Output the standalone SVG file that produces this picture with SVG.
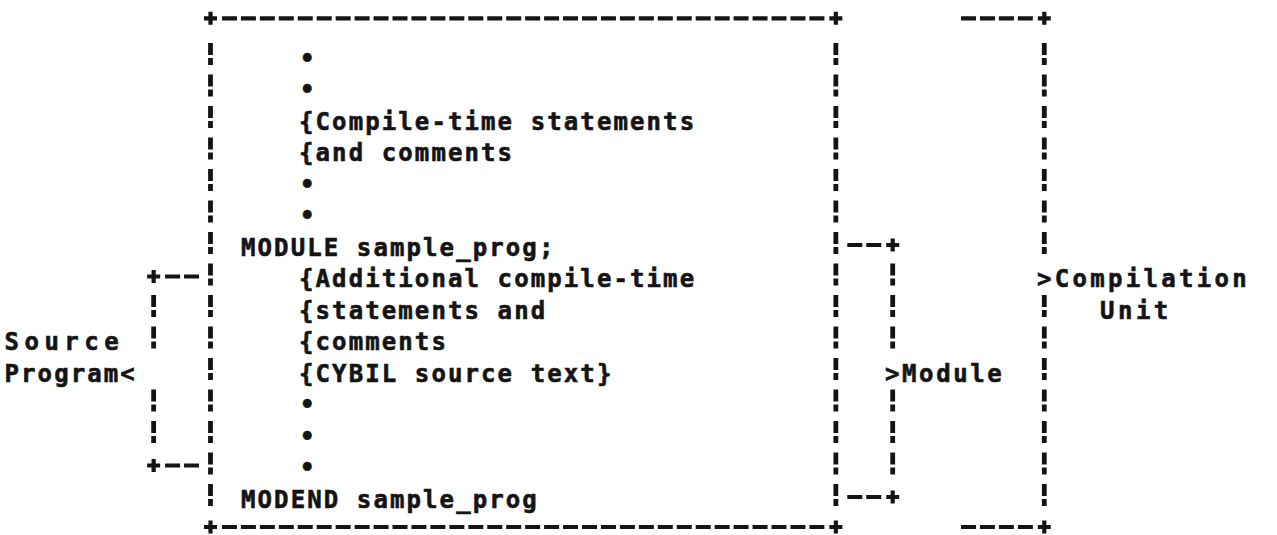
<svg xmlns="http://www.w3.org/2000/svg" width="1277" height="535" viewBox="0 0 1277 535">
  <defs>
    <style>
      .t{font-family:"DejaVu Sans Mono","Liberation Mono",monospace;font-weight:bold;font-size:24px;letter-spacing:2.1px;fill:#141414;stroke:#141414;stroke-width:0.6px}
      .v{stroke:#141414;stroke-width:4.8;stroke-dasharray:12 3 7 9.5;fill:none}
      .h{stroke:#141414;stroke-width:4.2;stroke-dasharray:15 3.95;fill:none}
      .p{stroke:#141414;stroke-width:4.2;fill:none}
    </style>
    <!-- corner / junction mark -->
    <path id="plus" class="p" d="M-6.5 0H6.5M0-6.5V6.5"/>
  </defs>
  <rect width="1277" height="535" fill="#fff"/>

  <!-- frames and brackets -->
  <g id="connectors">
    <!-- module listing frame -->
    <line class="h" x1="221.95" y1="18.3" x2="824.4" y2="18.3"/>
    <line class="h" x1="221.95" y1="527" x2="824.4" y2="527"/>
    <line class="v" x1="210.5" y1="43" x2="210.5" y2="506"/>
    <line class="v" x1="835.85" y1="43" x2="835.85" y2="506"/>
    <use href="#plus" x="210.5" y="18.3"/>
    <use href="#plus" x="835.85" y="18.3"/>
    <use href="#plus" x="210.5" y="527"/>
    <use href="#plus" x="835.85" y="527"/>

    <!-- source program bracket -->
    <line class="h" x1="165.1" y1="276.5" x2="199.05" y2="276.5"/>
    <line class="h" x1="165.1" y1="465.5" x2="199.05" y2="465.5"/>
    <use href="#plus" x="153.65" y="276.5"/>
    <use href="#plus" x="153.65" y="465.5"/>
    <line class="v" x1="153.65" y1="295" x2="153.65" y2="348.5"/>
    <line class="v" x1="153.65" y1="389.5" x2="153.65" y2="443"/>

    <!-- module bracket -->
    <line class="h" x1="847.3" y1="245" x2="881.25" y2="245"/>
    <line class="h" x1="847.3" y1="497" x2="881.25" y2="497"/>
    <use href="#plus" x="892.7" y="245"/>
    <use href="#plus" x="892.7" y="497"/>
    <line class="v" x1="892.7" y1="263.5" x2="892.7" y2="348.5"/>
    <line class="v" x1="892.7" y1="389.5" x2="892.7" y2="474.5"/>

    <!-- compilation unit bracket -->
    <line class="h" x1="961" y1="18.3" x2="1032.85" y2="18.3"/>
    <line class="h" x1="961" y1="527" x2="1032.85" y2="527"/>
    <use href="#plus" x="1044.3" y="18.3"/>
    <use href="#plus" x="1044.3" y="527"/>
    <line class="v" x1="1044.3" y1="43" x2="1044.3" y2="254"/>
    <line class="v" x1="1044.3" y1="295" x2="1044.3" y2="506"/>
  </g>

  <!-- module listing text -->
  <g id="module-listing">
    <text class="t" x="300" y="66.5">•</text>
    <text class="t" x="300" y="98">•</text>
    <text class="t" x="299" y="129.5">{Compile-time statements</text>
    <text class="t" x="299" y="161">{and comments</text>
    <text class="t" x="300" y="192.5">•</text>
    <text class="t" x="300" y="224">•</text>
    <text class="t" x="241" y="255.5">MODULE sample_prog;</text>
    <text class="t" x="299" y="287">{Additional compile-time</text>
    <text class="t" x="299" y="318.5">{statements and</text>
    <text class="t" x="299" y="350">{comments</text>
    <text class="t" x="299" y="381.5">{CYBIL source text}</text>
    <text class="t" x="300" y="413">•</text>
    <text class="t" x="300" y="444.5">•</text>
    <text class="t" x="300" y="476">•</text>
    <text class="t" x="241" y="507.5">MODEND sample_prog</text>
  </g>

  <g id="source-program">
    <text class="t" x="4.5" y="350" style="letter-spacing:5.5px">Source</text>
    <text class="t" x="4.5" y="381.5">Program&lt;</text>
  </g>

  <g id="module">
    <text class="t" x="885" y="381.5" style="letter-spacing:2.6px">&gt;Module</text>
  </g>

  <g id="compilation-unit">
    <text class="t" x="1037" y="287" style="letter-spacing:3.3px">&gt;Compilation</text>
    <text class="t" x="1100" y="318.5" style="letter-spacing:3.5px">Unit</text>
  </g>
</svg>
